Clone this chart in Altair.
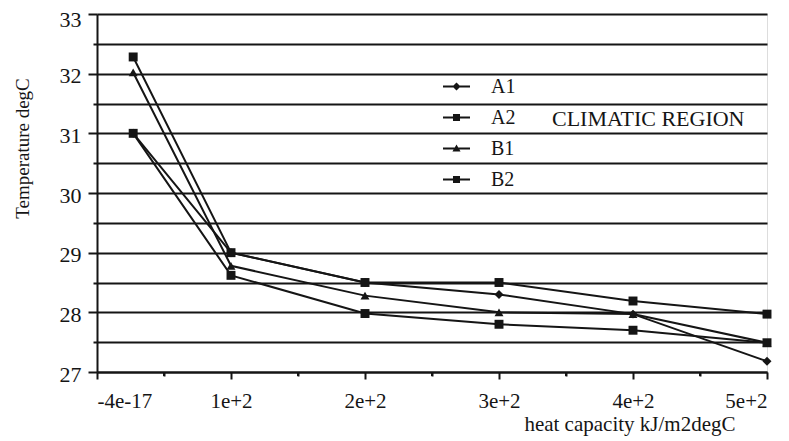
import altair as alt
import pandas as pd

series = ["A1", "A2", "B1", "B2"]
x_vals = [27, 100, 200, 300, 400, 500]
a1 = [31.0, 29.0, 28.5, 28.3, 27.97, 27.18]
a2 = [32.28, 29.0, 28.5, 28.5, 28.19, 27.97]
b1 = [32.02, 28.78, 28.28, 28.0, 27.97, 27.49]
b2 = [31.0, 28.62, 27.98, 27.8, 27.7, 27.49]
x_minor = [50, 150, 250, 350, 450]

rows = []
for name, vals in zip(series, [a1, a2, b1, b2]):
    for x, v in zip(x_vals, vals):
        rows.append({"series": name, "x": x, "temp": v})
df = pd.DataFrame(rows)
minor_df = pd.DataFrame({"m": x_minor})

FONT = "Liberation Serif"
INK = "#151515"

x_axis = alt.Axis(
    values=[0, 50, 100, 150, 200, 250, 300, 350, 400, 450, 500],
    labelExpr="datum.value == 0 ? '-4e-17' : (datum.value % 100 == 0 ? (datum.value/100) + 'e+2' : '')",
    tickSize={"condition": {"test": "datum.value % 100 === 0", "value": 7}, "value": 4},
    tickColor=INK, tickWidth=2, domainColor=INK, domainWidth=2, grid=False,
    labelFont=FONT, labelFontSize=21, labelColor=INK, labelPadding=11,
    title="heat capacity kJ/m2degC", titleFont=FONT, titleFontSize=21,
    titleFontWeight="normal", titleColor=INK, titleX=638, titleY=58,
    titleAlign="right", titleBaseline="alphabetic",
)
y_axis = alt.Axis(
    values=[27, 27.5, 28, 28.5, 29, 29.5, 30, 30.5, 31, 31.5, 32, 32.5, 33],
    labelExpr="datum.value % 1 == 0 ? datum.value : ''",
    tickSize={"condition": {"test": "datum.value % 1 === 0", "value": 9}, "value": 4},
    tickColor=INK, tickWidth=2, domainColor=INK, domainWidth=2,
    grid=True, gridColor=INK, gridWidth=2, gridOpacity=1,
    labelFont=FONT, labelFontSize=22, labelColor=INK, labelPadding=7,
    labelOffset={"condition": {"test": "datum.value == 33", "value": 5}, "value": 2},
    title="Temperature degC", titleFont=FONT, titleFontSize=19,
    titleFontWeight="normal", titleColor=INK, titleX=-75, titleY=134,
    titleAngle=-90, titleAlign="center", titleBaseline="middle",
)

xs = alt.X("x:Q", scale=alt.Scale(domain=[0, 500], nice=False, zero=False), axis=x_axis)
ys = alt.Y("temp:Q", scale=alt.Scale(domain=[27, 33], nice=False, zero=False), axis=y_axis)

base = alt.Chart(df)

lines = base.mark_line(color=INK, strokeWidth=2).encode(x=xs, y=ys, detail="series:N")

points = base.mark_point(filled=True, color=INK, size=80, opacity=1).encode(
    x=xs, y=ys,
    shape=alt.Shape("series:N",
                    scale=alt.Scale(domain=series, range=["diamond", "square", "triangle-up", "square"]),
                    legend=None),
)

bar = "M-1,-0.075L1,-0.075L1,0.075L-1,0.075Z"
legend_paths = [
    bar + "M0,-0.3L0.3,0L0,0.3L-0.3,0Z",
    bar + "M-0.26,-0.26L0.26,-0.26L0.26,0.26L-0.26,0.26Z",
    bar + "M0,-0.3L0.3,0.22L-0.3,0.22Z",
    bar + "M-0.26,-0.26L0.26,-0.26L0.26,0.26L-0.26,0.26Z",
]

legend_layer = base.mark_point(filled=True, color=INK, clip=True).encode(
    x=alt.value(-200), y=alt.value(-200),
    shape=alt.Shape("series:N",
                    scale=alt.Scale(domain=series, range=legend_paths),
                    legend=alt.Legend(
                        orient="none", legendX=345, legendY=58,
                        title="CLIMATIC REGION", titleOrient="right", titleAnchor="middle",
                        titleBaseline="bottom", titleLimit=400,
                        titleFont=FONT, titleFontSize=22, titleFontWeight="normal", titleColor=INK,
                        titlePadding=37,
                        labelFont=FONT, labelFontSize=20, labelColor=INK, labelOffset=20,
                        symbolSize=729, symbolFillColor=INK, symbolOpacity=1, rowPadding=6,
                    )),
)

minor = alt.Chart(minor_df).mark_rule(color=INK, strokeWidth=2).encode(
    x=alt.X("m:Q", scale=alt.Scale(domain=[0, 500], nice=False)),
    y=alt.value(358), y2=alt.value(362),
)

chart = alt.layer(lines, points, legend_layer, minor).resolve_scale(
    shape="independent"
).resolve_legend(shape="independent").properties(
    width=670, height=358,
    autosize=alt.AutoSizeParams(type="none"),
    padding={"left": 89, "top": 6, "right": 14, "bottom": 66},
).configure_view(stroke=INK, strokeWidth=1.6).configure(background="white")

chart.save("out.html", embed_options={"renderer": "svg", "actions": False})
